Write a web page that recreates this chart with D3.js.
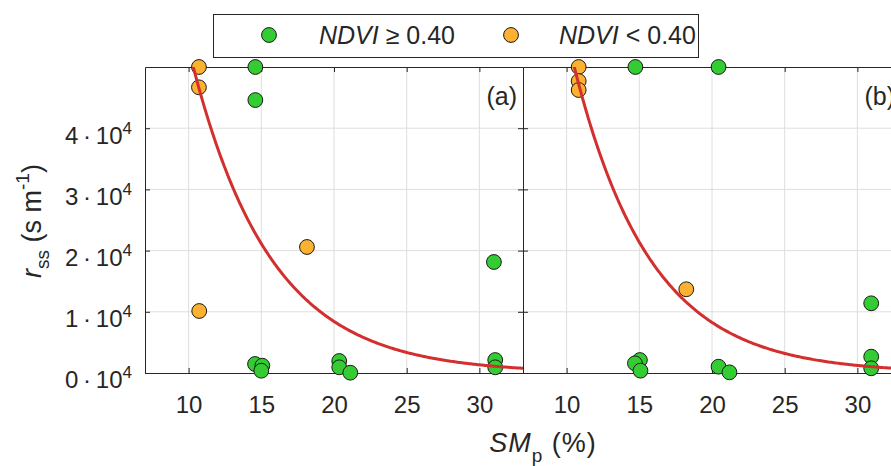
<!DOCTYPE html>
<html>
<head>
<meta charset="utf-8">
<script src="https://cdn.jsdelivr.net/npm/d3@7"></script>
<style>
  body { margin: 0; background: #fff; }
  svg { display: block; font-family: Arial, "Liberation Sans", Helvetica, sans-serif; }
</style>
</head>
<body>
<div id="chart"></div>
<script>
// data
var xTicks = [10, 15, 20, 25, 30];
var yTicks = [0, 10000, 20000, 30000, 40000];

// panel (a)
var greenAx = [14.59, 14.59, 14.57, 15.07, 15.0, 31.0, 20.36, 20.36, 21.12, 31.09, 31.09];
var greenAy = [50000, 44600, 1470, 1190, 375, 18140, 1960, 930, 50, 2120, 930];
var orangeAx = [10.71, 10.71, 10.73, 18.14];
var orangeAy = [50000, 46680, 10130, 20590];
var fitA = [334000, 0.184]; // rss = a * exp(-b * SM)

// panel (b)
var greenBx = [14.73, 20.45, 30.95, 15.04, 14.7, 15.08, 20.45, 21.2, 30.95, 30.95];
var greenBy = [50000, 50000, 11390, 2120, 1580, 380, 1030, 110, 2670, 770];
var orangeBx = [10.83, 10.83, 10.83, 18.23];
var orangeBy = [50000, 47700, 46240, 13680];
var fitB = [369600, 0.19];

var svgWidth = 891;
var svgHeight = 466;

var top_ = 67, bottom_ = 373;
var panelW = 378;
var green = '#33cc33';
var orange = '#fdb130';
var ink = '#262626';
var fontSize = 24;

var svg = d3
  .select('#chart')
  .append('svg')
  .attr('width', svgWidth)
  .attr('height', svgHeight);

var y = d3.scaleLinear().domain([0, 50000]).range([bottom_, top_]);

function zip(xs, ys) {
  return xs.map((d, i) => ({ x: d, y: ys[i] }));
}

function drawPanel(left, green_, orange_, fit, label, id, showY) {
  var x = d3.scaleLinear().domain([7, 33]).range([left, left + panelW]);
  var g = svg.append('g');

  // grid
  g.selectAll('.vgrid')
    .data(xTicks)
    .enter()
    .append('line')
    .attr('x1', (d) => x(d))
    .attr('x2', (d) => x(d))
    .attr('y1', top_)
    .attr('y2', bottom_)
    .attr('stroke', '#dedede');
  g.selectAll('.hgrid')
    .data(yTicks.slice(1))
    .enter()
    .append('line')
    .attr('x1', left)
    .attr('x2', left + panelW)
    .attr('y1', (d) => y(d))
    .attr('y2', (d) => y(d))
    .attr('stroke', '#dedede');

  // axes (ticks inside, box style)
  var bottomAxis = d3.axisBottom(x).tickValues(xTicks).tickSizeInner(-5).tickSizeOuter(0).tickPadding(23);
  var topAxis = d3.axisTop(x).tickValues(xTicks).tickSizeInner(-5).tickSizeOuter(0).tickFormat('');
  var leftAxis = d3.axisLeft(y).tickValues(yTicks).tickSizeInner(-5).tickSizeOuter(0).tickPadding(13);
  var rightAxis = d3.axisRight(y).tickValues(yTicks).tickSizeInner(-5).tickSizeOuter(0).tickFormat('');

  var xa = g.append('g').attr('transform', `translate(0, ${bottom_})`).call(bottomAxis);
  g.append('g').attr('transform', `translate(0, ${top_})`).call(topAxis);
  var ya = g.append('g').attr('transform', `translate(${left}, 0)`).call(leftAxis);
  g.append('g').attr('transform', `translate(${left + panelW}, 0)`).call(rightAxis);

  g.selectAll('.domain, .tick line').attr('stroke', ink);
  xa.selectAll('text').attr('font-size', fontSize).attr('fill', ink).attr('font-family', null);

  if (showY) {
    ya.selectAll('text').each(function (d) {
      var t = d3.select(this);
      t.text(null).attr('font-size', fontSize).attr('fill', ink).attr('font-family', null).attr('dy', '0.62em');
      t.append('tspan').text(d / 10000 + '\u2009\u00b7\u200910');
      t.append('tspan').attr('font-size', 17).attr('dy', -10).text('4');
    });
  } else {
    ya.selectAll('text').remove();
  }

  // clip for fit curve
  svg.append('clipPath')
    .attr('id', id)
    .append('rect')
    .attr('x', left)
    .attr('y', top_)
    .attr('width', panelW)
    .attr('height', bottom_ - top_);

  var pts = zip(green_[0], green_[1]).map((d) => ({ ...d, c: green }))
    .concat(zip(orange_[0], orange_[1]).map((d) => ({ ...d, c: orange })));

  g.selectAll('circle')
    .data(pts)
    .enter()
    .append('circle')
    .attr('cx', (d) => x(d.x))
    .attr('cy', (d) => y(d.y))
    .attr('r', 7.4)
    .attr('fill', (d) => d.c)
    .attr('stroke', '#1a1a1a')
    .attr('stroke-width', 1);

  var xs = d3.range(7, 33.01, 0.1);
  var line = d3.line()
    .x((d) => x(d))
    .y((d) => y(fit[0] * Math.exp(-fit[1] * d)));
  g.append('path')
    .datum(xs)
    .attr('d', line)
    .attr('clip-path', `url(#${id})`)
    .attr('fill', 'none')
    .attr('stroke', '#d32f2f')
    .attr('stroke-width', 3);

  g.append('text')
    .attr('x', left + panelW - 6)
    .attr('y', 105)
    .attr('text-anchor', 'end')
    .attr('font-size', 25)
    .attr('fill', ink)
    .text(label);
}

drawPanel(145, [greenAx, greenAy], [orangeAx, orangeAy], fitA, '(a)', 'clipA', true);
drawPanel(523, [greenBx, greenBy], [orangeBx, orangeBy], fitB, '(b)', 'clipB', false);

// y label
var yl = svg.append('text')
  .attr('transform', 'translate(41, 221) rotate(-90)')
  .attr('text-anchor', 'middle')
  .attr('font-size', 27)
  .attr('fill', ink);
yl.append('tspan').attr('font-style', 'italic').text('r');
yl.append('tspan').attr('font-size', 19).attr('dy', 8).text('ss');
yl.append('tspan').attr('dy', -8).text(' (s m');
yl.append('tspan').attr('font-size', 19).attr('dy', -12).text('-1');
yl.append('tspan').attr('dy', 12).text(')');

// x label
var xl = svg.append('text')
  .attr('x', 543)
  .attr('y', 452)
  .attr('text-anchor', 'middle')
  .attr('font-size', 27)
  .attr('letter-spacing', 1)
  .attr('fill', ink);
xl.append('tspan').attr('font-style', 'italic').text('SM');
xl.append('tspan').attr('font-size', 19).attr('dy', 10).text('p');
xl.append('tspan').attr('dy', -10).text(' (%)');

// legend
var legend = svg.append('g');
legend.append('rect')
  .attr('x', 213.5)
  .attr('y', 14.5)
  .attr('width', 485)
  .attr('height', 43)
  .attr('fill', '#fff')
  .attr('stroke', ink)
  .attr('stroke-width', 1);

var legendItems = [
  { c: green, name: 'NDVI', rest: ' \u2265 0.40', cx: 269, tx: 319 },
  { c: orange, name: 'NDVI', rest: ' < 0.40', cx: 511, tx: 559 },
];
legendItems.forEach(function (d) {
  legend.append('circle')
    .attr('cx', d.cx)
    .attr('cy', 35)
    .attr('r', 7.4)
    .attr('fill', d.c)
    .attr('stroke', '#1a1a1a');
  var t = legend.append('text')
    .attr('x', d.tx)
    .attr('y', 44)
    .attr('font-size', 25)
    .attr('fill', ink);
  t.append('tspan').attr('font-style', 'italic').text(d.name);
  t.append('tspan').text(d.rest);
});
</script>
</body>
</html>
